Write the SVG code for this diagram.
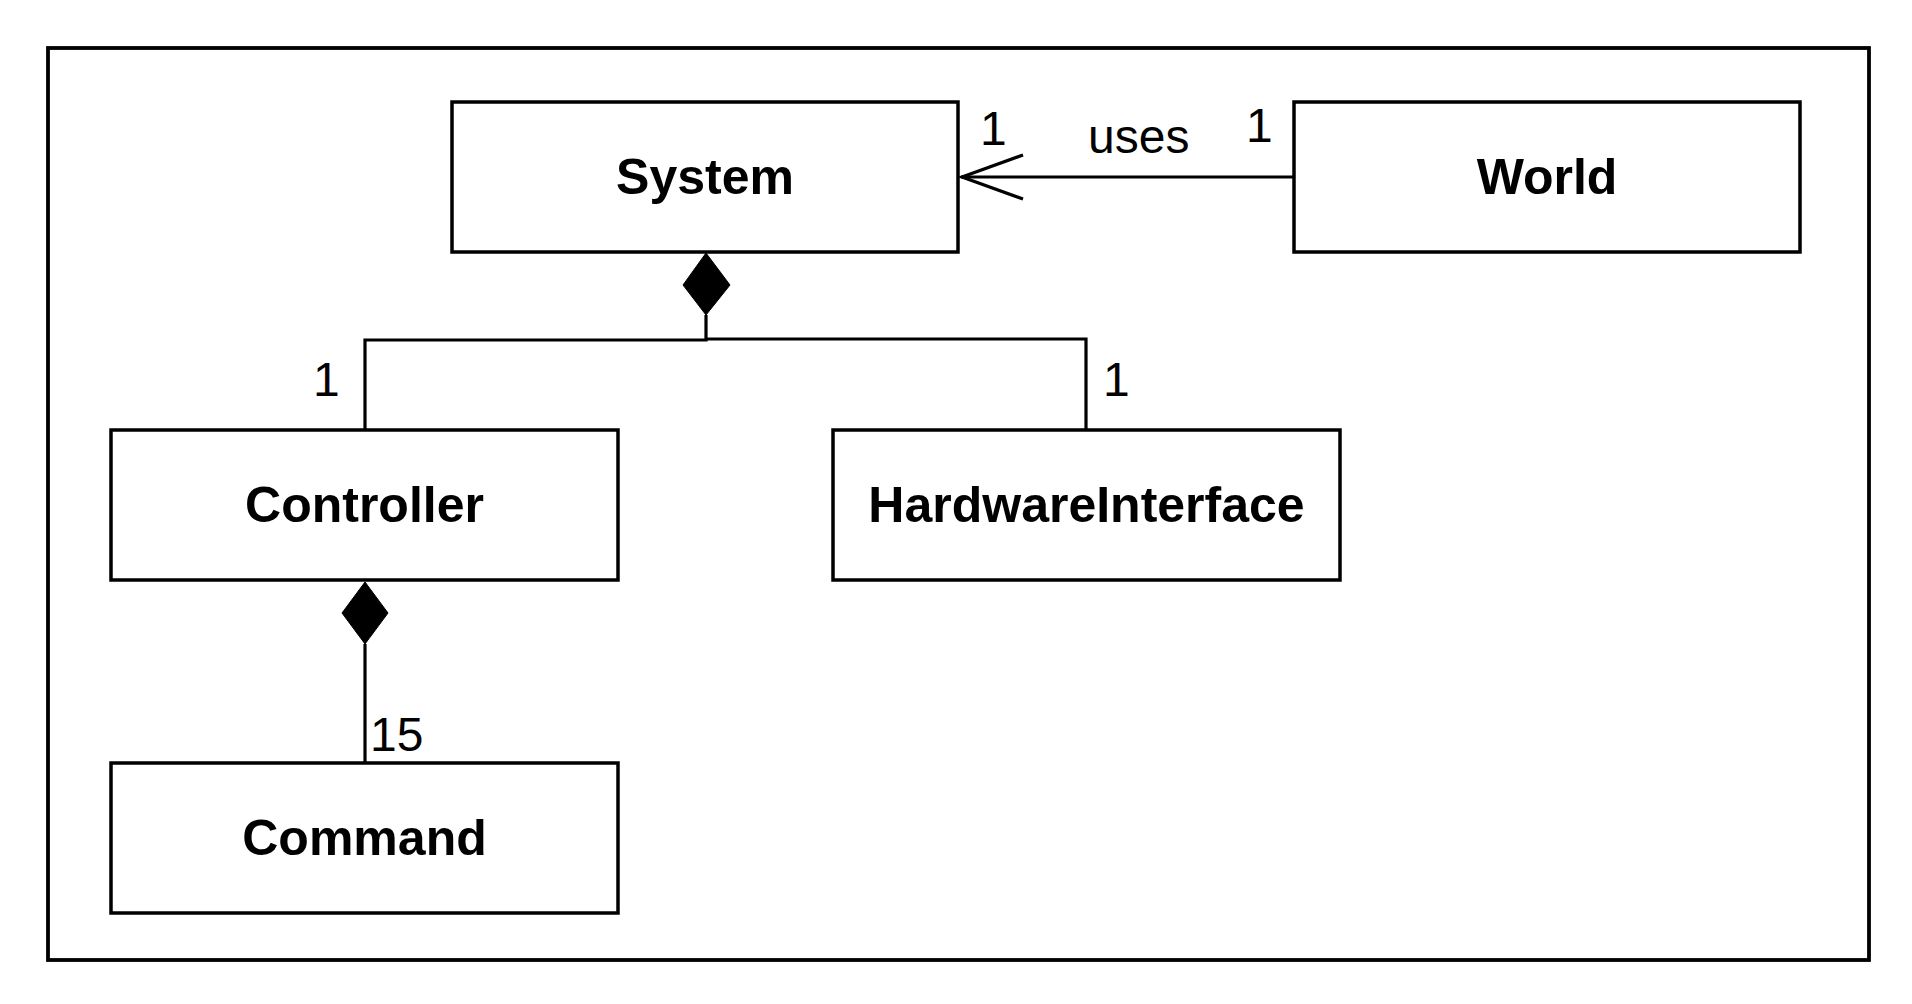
<svg xmlns="http://www.w3.org/2000/svg" width="1912" height="1004" viewBox="0 0 1912 1004">
<style>
.box{fill:#fff;stroke:#000;stroke-width:3.5}
.name{font-family:"Liberation Sans",Arial,sans-serif;font-weight:bold;font-size:50px;text-anchor:middle;fill:#000}
.lbl{font-family:"Liberation Sans",Arial,sans-serif;font-size:48px;fill:#000}
.ln{fill:none;stroke:#000;stroke-width:3.2}
.dia{fill:#000;stroke:#000;stroke-width:1}
</style>
<rect width="1912" height="1004" fill="#fff"/>
<rect x="48" y="48" width="1821" height="912" fill="none" stroke="#000" stroke-width="3.8"/>
<g id="connectors">
<polyline class="ln" points="1294,177 961,177"/>
<polyline class="ln" points="1023,155 962,177 1023,199"/>
<polygon class="dia" points="706,253 730,285 706,315 683,285"/>
<polyline class="ln" points="706,315 706,340 365,340 365,430"/>
<polyline class="ln" points="706,339 1086,339 1086,430"/>
<polygon class="dia" points="365,582 388,613 365,644 342,613"/>
<polyline class="ln" points="365,644 365,763"/>
<text class="lbl" x="980" y="145">1</text>
<text class="lbl" x="1088" y="153">uses</text>
<text class="lbl" x="1246" y="142">1</text>
<text class="lbl" x="313" y="396">1</text>
<text class="lbl" x="1103" y="396">1</text>
<text class="lbl" x="370" y="751">15</text>
</g>
<g id="system"><rect class="box" x="452" y="102" width="506" height="150"/><text class="name" x="705" y="194">System</text></g>
<g id="world"><rect class="box" x="1294" y="102" width="506" height="150"/><text class="name" x="1547" y="194">World</text></g>
<g id="controller"><rect class="box" x="111" y="430" width="507" height="150"/><text class="name" x="364.5" y="522">Controller</text></g>
<g id="hardwareinterface"><rect class="box" x="833" y="430" width="507" height="150"/><text class="name" x="1086.5" y="522">HardwareInterface</text></g>
<g id="command"><rect class="box" x="111" y="763" width="507" height="150"/><text class="name" x="364.5" y="855">Command</text></g>
</svg>
